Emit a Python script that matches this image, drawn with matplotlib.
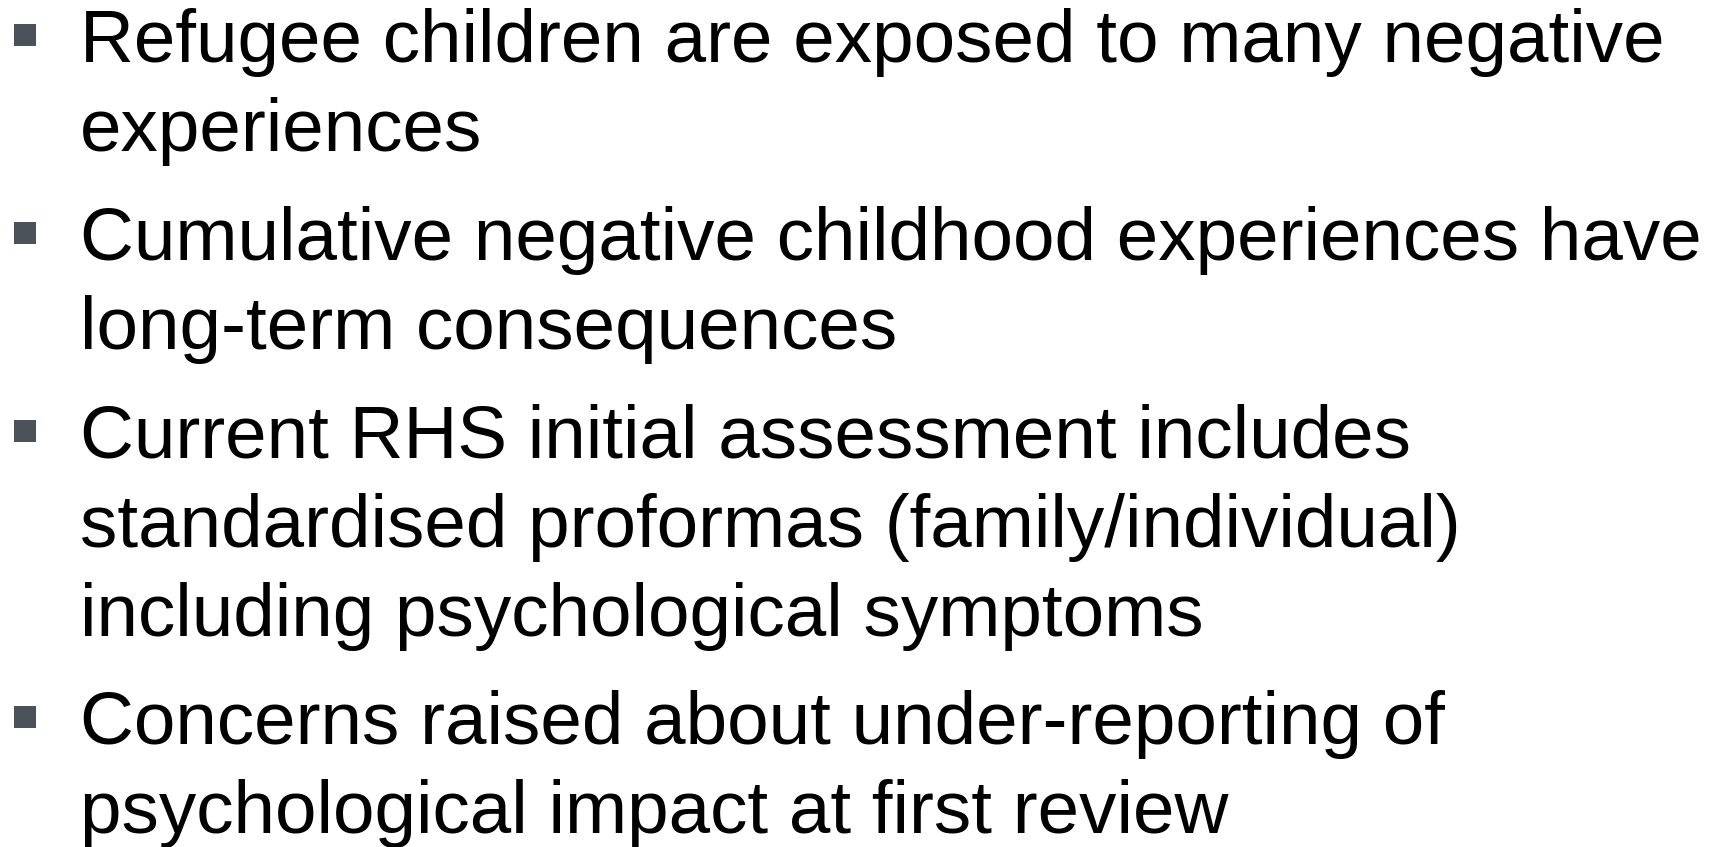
import matplotlib
matplotlib.use("Agg")
import matplotlib.pyplot as plt
from matplotlib.patches import Rectangle

W, H = 1725, 847
DPI = 100

bullets = [
    ["Refugee children are exposed to many negative", "experiences"],
    ["Cumulative negative childhood experiences have", "long-term consequences"],
    ["Current RHS initial assessment includes",
     "standardised proformas (family/individual)",
     "including psychological symptoms"],
    ["Concerns raised about under-reporting of",
     "psychological impact at first review"],
]
baselines = [[62, 151], [260, 349], [458, 547, 636], [744, 833]]

text_x = 80
font_size = 53.7
bullet_color = "#4b525a"

fig = plt.figure(figsize=(W / DPI, H / DPI), dpi=DPI)
ax = fig.add_axes([0, 0, 1, 1])
ax.set_xlim(0, W)
ax.set_ylim(H, 0)
ax.axis("off")

for lines, ys in zip(bullets, baselines):
    ax.add_patch(Rectangle((14, ys[0] - 38), 22, 22, color=bullet_color, lw=0))
    for line, y in zip(lines, ys):
        ax.text(text_x, y, line, fontsize=font_size, family="Liberation Sans",
                color="black", va="baseline", ha="left")

fig.savefig("out.png", dpi=DPI, facecolor="white")
